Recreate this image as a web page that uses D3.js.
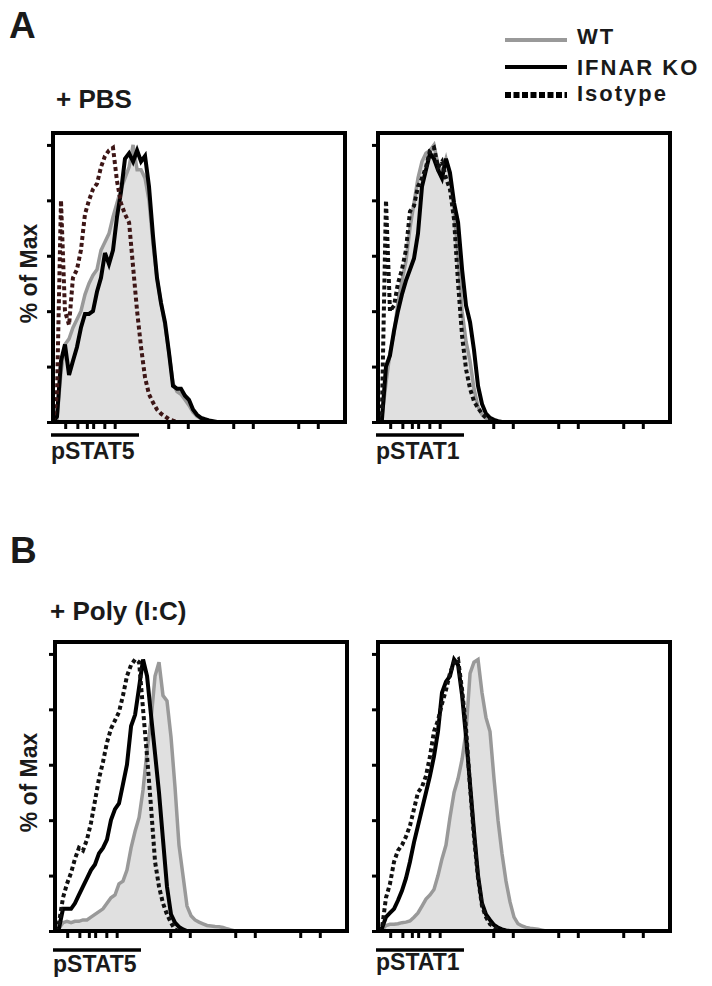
<!DOCTYPE html>
<html>
<head>
<meta charset="utf-8">
<script src="https://cdn.jsdelivr.net/npm/d3@7"></script>
<style>
  body { margin: 0; background: #fff; }
  text { font-family: Arial, "Liberation Sans", sans-serif; fill: #1a1a1a; font-weight: bold; }
</style>
</head>
<body>
<svg width="712" height="986"></svg>
<script>
// fluorescence bins (intensity) shared by all histograms
const bins = [8.44, 9.72, 11.2, 12.9, 14.9, 17.1, 19.7, 22.7, 26.2, 30.2, 34.8, 40.1, 46.2, 53.2, 61.3,
  70.7, 81.4, 93.8, 108, 125, 144, 166, 191, 220, 253, 292, 336, 387, 446, 514, 592, 682, 786, 906,
  1044, 1203, 1386, 1597, 1840, 2120, 2443, 2815, 3243, 3737, 4306, 4961, 5716, 6586, 7589, 8744, 10075];
const xMax = 262144;
const xTicks = [13, 20, 28, 35, 52, 75, 500, 1000, 5000, 10000, 50000, 100000];
const yTicks = [0, 20, 40, 60, 80, 100];

// % of max per bin, A = + PBS, B = + Poly (I:C)
const aStat5Wt = [0, 1, 18, 28, 30, 34, 37, 40, 46, 50, 53, 55, 62, 65, 68, 74, 79, 84, 88, 92, 100, 91, 91, 88, 80, 64, 52, 43, 35, 25, 14, 11, 10, 8, 6, 3.5, 2, 1.2, 0.8, 0.5, 0.2, 0];
const aStat5Ko = [0, 2, 22, 28, 17, 22, 27, 34, 39, 39, 40, 47, 52, 61, 57, 62, 74, 83, 95, 97, 94, 98, 94, 96, 85, 67, 52, 43, 36, 25, 13, 12, 12, 9.5, 8, 4.5, 2.6, 1.5, 1, 0.6, 0.3, 0];
const aStat5Iso = [0, 10, 80, 40, 35, 52, 55, 62, 75, 80, 84, 86, 92, 96, 98, 99, 87, 79, 75, 72, 56, 40, 27, 16, 10, 7, 4.5, 3, 2, 1, 0.5, 0];

const aStat1Wt = [0, 2, 14, 25, 32, 43, 51, 58, 70, 79, 88, 94, 97, 98, 100, 93, 90, 95, 89, 76, 60, 40, 29, 22, 12, 5.5, 2.6, 1.3, 0.6, 0.2, 0];
const aStat1Ko = [0, 1, 20, 24, 33, 40, 46, 51, 55, 59, 68, 85, 91, 97, 95, 91, 88, 95, 90, 79, 72, 55, 42, 36, 26, 13, 6.5, 3, 1.5, 0.8, 0.3, 0];
const aStat1Iso = [0, 5, 80, 40, 42, 50, 55, 62, 76, 78, 85, 88, 92, 98, 99, 92, 94, 88, 84, 73, 50, 31, 19, 12, 7.5, 5, 3, 1.5, 0.6, 0];

const bStat5Wt = [0, 1, 3, 3.5, 3, 3.5, 3.5, 4, 4, 5, 6, 7, 8, 10, 12, 13, 17, 18, 22, 30, 36, 41, 51, 65, 76, 92, 97, 85, 83, 70, 52, 31, 20, 9, 5.5, 4, 3.2, 2.6, 2, 1.8, 1.6, 1.5, 1.3, 0.8, 0.4, 0];
const bStat5Ko = [0, 1, 8, 8, 8, 10, 13, 16, 19, 22, 24, 28, 30, 33, 40, 44, 46, 53, 60, 74, 78, 88, 98, 92, 78, 64, 50, 33, 16, 6, 3, 1.5, 0.6, 0];
const bStat5Iso = [0, 3, 12, 17, 21, 26, 30, 29, 33, 39, 47, 55, 61, 68, 73, 76, 79, 85, 92, 96, 98, 97, 80, 63, 45, 25, 16, 10, 6, 3, 0.5, 0];

const bStat1Wt = [0, 0.5, 2, 2.4, 2.4, 2.6, 3, 3.2, 3.6, 5, 6.5, 9, 11.5, 13, 15, 20, 26, 31, 41, 50, 55, 62, 72, 93, 97, 98, 86, 77, 72, 55, 40, 28, 18, 10.5, 5, 2.6, 1.8, 1.3, 1, 0.8, 0.6, 0.3, 0];
const bStat1Ko = [0, 1, 5, 6.5, 8, 11, 14.5, 19, 25, 32, 38, 44, 50, 56, 63, 72, 86, 90, 92, 98, 96, 85, 70, 53, 36, 20, 10, 6, 4, 2.2, 1.2, 0.6, 0.2, 0];
const bStat1Iso = [0, 1, 12, 17, 25, 29, 31, 34, 38, 44, 50, 52, 56, 63, 72, 76, 82, 87, 93, 97, 98, 87, 73, 52, 34, 19, 9, 5, 2.5, 1.5, 0.5, 0];

const svg = d3.select('svg');
const W = 292, H = 289;
const x = d3.scaleLog().domain([bins[0], xMax]).range([0, W]);
const y = d3.scaleLinear().domain([0, 104.3]).range([H, 0]);

// turn a % array into points, running flat along the bottom to the top channel
const pts = (vals) => vals.map((v, i) => [bins[i], v]).concat([[xMax, 0]]);
const line = d3.line().x(d => x(d[0])).y(d => y(d[1]));
const area = d3.area().x(d => x(d[0])).y0(H).y1(d => y(d[1]));

const panels = [
  { left: 53, top: 133, wt: aStat5Wt, ko: aStat5Ko, iso: aStat5Iso, isoColor: '#3d1616', label: 'pSTAT5', yLabel: true, barY: 13, textY: 37 },
  { left: 378, top: 133, wt: aStat1Wt, ko: aStat1Ko, iso: aStat1Iso, isoColor: '#111', label: 'pSTAT1', yLabel: false, barY: 13, textY: 37 },
  { left: 55, top: 642, wt: bStat5Wt, ko: bStat5Ko, iso: bStat5Iso, isoColor: '#111', label: 'pSTAT5', yLabel: true, barY: 19, textY: 41 },
  { left: 378, top: 642, wt: bStat1Wt, ko: bStat1Ko, iso: bStat1Iso, isoColor: '#111', label: 'pSTAT1', yLabel: false, barY: 19, textY: 39 }
];

panels.forEach(p => {
  const g = svg.append('g').attr('transform', `translate(${p.left},${p.top})`);

  g.append('path').datum(pts(p.wt)).attr('d', area).attr('fill', '#e0e0e0');
  g.append('path').datum(pts(p.wt)).attr('d', line)
    .attr('fill', 'none').attr('stroke', '#999').attr('stroke-width', 3.5);
  g.append('path').datum(pts(p.ko)).attr('d', line)
    .attr('fill', 'none').attr('stroke', '#000').attr('stroke-width', 4);
  g.append('path').datum(pts(p.iso)).attr('d', line)
    .attr('fill', 'none').attr('stroke', p.isoColor).attr('stroke-width', 4)
    .attr('stroke-dasharray', '4,3');

  const yAxis = g.append('g').call(d3.axisLeft(y).tickValues(yTicks).tickSize(6).tickFormat(''));
  const xAxis = g.append('g').attr('transform', `translate(0,${H})`)
    .call(d3.axisBottom(x).tickValues(xTicks).tickSize(7).tickFormat(''));
  [yAxis, xAxis].forEach(a => {
    a.select('.domain').remove();
    a.selectAll('line').attr('stroke', '#000').attr('stroke-width', 3);
  });

  g.append('rect').attr('width', W).attr('height', H)
    .attr('fill', 'none').attr('stroke', '#000').attr('stroke-width', 4);

  // marker bar + label under the axis
  g.append('line').attr('x1', -2).attr('x2', 86).attr('y1', H + p.barY).attr('y2', H + p.barY)
    .attr('stroke', '#000').attr('stroke-width', 3.5);
  g.append('text').attr('x', -2).attr('y', H + p.textY).attr('font-size', 23).text(p.label);

  if (p.yLabel) {
    g.append('text').attr('transform', `translate(${37 - p.left},${H / 2 - 4}) rotate(-90)`)
      .attr('text-anchor', 'middle').attr('font-size', 23).text('% of Max');
  }
});

// panel letters and conditions
svg.append('text').attr('x', 9).attr('y', 38).attr('font-size', 37).text('A');
svg.append('text').attr('x', 10).attr('y', 563).attr('font-size', 37).text('B');
svg.append('text').attr('x', 56).attr('y', 108).attr('font-size', 26).text('+ PBS');
svg.append('text').attr('x', 50).attr('y', 620).attr('font-size', 26).text('+ Poly (I:C)');

// legend
const legendNames = ['WT', 'IFNAR KO', 'Isotype'];
const legendY = [40, 67, 95];
const legendBase = [44, 75, 101];
const legend = svg.append('g');
legendNames.forEach((name, i) => {
  const l = legend.append('line').attr('x1', 505).attr('x2', 567)
    .attr('y1', legendY[i]).attr('y2', legendY[i]).attr('stroke-width', i === 2 ? 6 : 4)
    .attr('stroke', i === 0 ? '#999' : '#000');
  if (i === 2) l.attr('stroke-dasharray', '6,2.5');
  legend.append('text').attr('x', 577).attr('y', legendBase[i]).attr('font-size', 22)
    .attr('letter-spacing', 2).text(name);
});
</script>
</body>
</html>
